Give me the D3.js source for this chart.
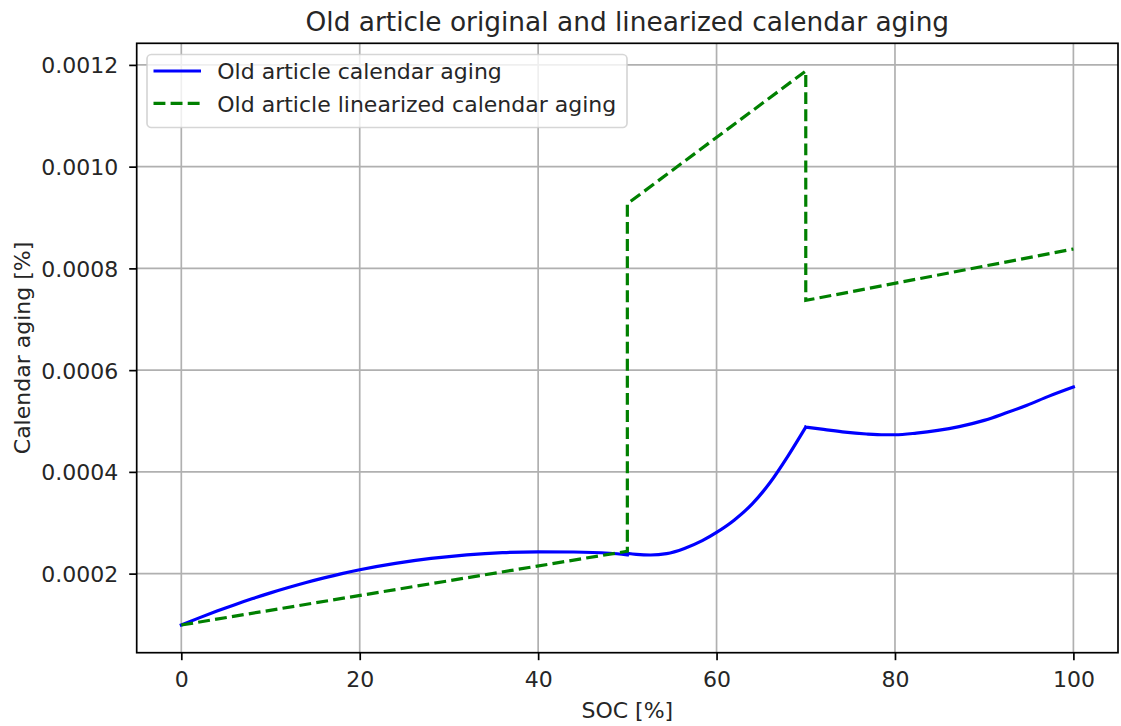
<!DOCTYPE html>
<html>
<head>
<meta charset="utf-8">
<script src="https://cdn.jsdelivr.net/npm/d3@7"></script>
<style>
  html, body { margin: 0; padding: 0; background: #fff; }
  svg { display: block; font-family: "DejaVu Sans", sans-serif; }
</style>
</head>
<body>
<svg id="chart" width="1121" height="726"></svg>
<script>
// ---------- data ----------
const titleText = "Old article original and linearized calendar aging";
const xLabelText = "SOC [%]";
const yLabelText = "Calendar aging [%]";
const seriesNames = ["Old article calendar aging", "Old article linearized calendar aging"];

const xTicks = [0, 20, 40, 60, 80, 100];
const yTicks = [0.0002, 0.0004, 0.0006, 0.0008, 0.0010, 0.0012];

// Original calendar aging (blue)
const blueSOC = [0, 2, 4, 6, 8, 10, 12, 14, 16, 18, 20, 24, 28, 32, 36, 40, 44, 48, 50,
                 50, 51, 52.6, 54.4, 56.4, 58.4, 60, 62, 64, 66, 68, 70,
                 72, 74.4, 76.8, 78.8, 80, 82.4, 84.8, 87.2, 90, 92.4, 94.8, 97.2, 100];
const blueAging = [0.0000990, 0.0001130, 0.0001263, 0.0001390, 0.0001510, 0.0001622, 0.0001727,
                   0.0001826, 0.0001917, 0.0002001, 0.0002075, 0.0002200, 0.0002298, 0.0002369,
                   0.0002413, 0.0002428, 0.0002425, 0.0002400, 0.0002370,
                   0.0002400, 0.0002380, 0.0002366, 0.0002392, 0.0002495, 0.0002648, 0.0002810,
                   0.0003055, 0.0003370, 0.0003790, 0.0004310, 0.0004880,
                   0.0004835, 0.0004780, 0.0004745, 0.0004730, 0.0004730, 0.0004762, 0.0004815,
                   0.0004890, 0.0005012, 0.0005156, 0.0005310, 0.0005484, 0.0005668];
// start index of each smooth piece of the blue curve
const blueSegmentStarts = [0, 19, 30];

// Linearized calendar aging (green dashed)
const greenSOC = [0, 50, 50, 70, 70, 100];
const greenAging = [0.0000990, 0.0002440, 0.0009270, 0.0011880, 0.0007370, 0.0008380];

// ---------- layout ----------
const svg = d3.select("#chart");
const L = 136.7, R = 1118, T = 43.3, B = 652.7;
const fs = 22;

const allY = blueAging.concat(greenAging);
const yMin = d3.min(allY), yMax = d3.max(allY);
const yPad = (yMax - yMin) * 0.05;
const x = d3.scaleLinear().domain([-5, 105]).range([L, R]);
const y = d3.scaleLinear().domain([yMin - yPad, yMax + yPad]).range([B, T]);

// grid
const grid = svg.append("g");
grid.selectAll(".gx").data(xTicks).enter().append("line")
  .attr("x1", d => x(d)).attr("x2", d => x(d)).attr("y1", T).attr("y2", B)
  .attr("stroke", "#b0b0b0").attr("stroke-width", 1.7);
grid.selectAll(".gy").data(yTicks).enter().append("line")
  .attr("x1", L).attr("x2", R).attr("y1", d => y(d)).attr("y2", d => y(d))
  .attr("stroke", "#b0b0b0").attr("stroke-width", 1.7);

// axes
const xAxis = d3.axisBottom(x).tickValues(xTicks).tickSize(7.5).tickPadding(6).tickFormat(d3.format("d"));
const yAxis = d3.axisLeft(y).tickValues(yTicks).tickSize(7.5).tickPadding(10).tickFormat(d3.format(".4f"));

const gx = svg.append("g").attr("transform", `translate(0,${B})`).call(xAxis);
const gy = svg.append("g").attr("transform", `translate(${L},0)`).call(yAxis);
[gx, gy].forEach(g => {
  g.select(".domain").remove();
  g.selectAll(".tick line").attr("stroke", "#000").attr("stroke-width", 1.7);
  g.selectAll(".tick text").attr("fill", "#262626").style("font-size", fs + "px")
    .style("font-family", '"DejaVu Sans", sans-serif');
});
gx.selectAll(".tick text").attr("dy", null).attr("y", 34);
gy.selectAll(".tick text").attr("dy", "0.36em").attr("x", -18.5);

// lines
svg.append("clipPath").attr("id", "clip").append("rect")
  .attr("x", L).attr("y", T).attr("width", R - L).attr("height", B - T);
const smoothLine = d3.line().x(d => x(d[0])).y(d => y(d[1])).curve(d3.curveMonotoneX);
const straightLine = d3.line().x(d => x(d[0])).y(d => y(d[1]));
const bluePts = blueSOC.map((s, i) => [s, blueAging[i]]);
const segs = blueSegmentStarts.map((st, k) => {
  const end = k + 1 < blueSegmentStarts.length ? blueSegmentStarts[k + 1] : bluePts.length;
  return bluePts.slice(st, end + (k === 1 ? 1 : 0));
});
const plotG = svg.append("g").attr("clip-path", "url(#clip)");
plotG.append("path")
  .attr("d", segs.map(s => smoothLine(s)).join("") +
             straightLine([bluePts[blueSegmentStarts[1] - 1], bluePts[blueSegmentStarts[1]]]))
  .attr("fill", "none").attr("stroke", "#0000ff").attr("stroke-width", 3.2)
  .attr("stroke-linejoin", "round").attr("stroke-linecap", "square");

const greenPts = greenSOC.map((s, i) => [s, greenAging[i]]);
plotG.append("path")
  .attr("d", straightLine(greenPts))
  .attr("fill", "none").attr("stroke", "#008000").attr("stroke-width", 3.2)
  .attr("stroke-dasharray", "11.9,5.2");

// spines
svg.append("rect").attr("x", L).attr("y", T).attr("width", R - L).attr("height", B - T)
  .attr("fill", "none").attr("stroke", "#000").attr("stroke-width", 1.7);

// title & labels
svg.append("text").attr("x", (L + R) / 2).attr("y", 30.5).attr("text-anchor", "middle")
  .style("font-size", "26.4px").attr("fill", "#262626").text(titleText);
svg.append("text").attr("x", (L + R) / 2).attr("y", 718).attr("text-anchor", "middle")
  .style("font-size", fs + "px").attr("fill", "#262626").text(xLabelText);
svg.append("text").attr("transform", `translate(29.5,${(T + B) / 2}) rotate(-90)`)
  .attr("text-anchor", "middle").style("font-size", fs + "px").attr("fill", "#262626").text(yLabelText);

// legend
const lg = svg.append("g");
lg.append("rect").attr("x", 147).attr("y", 54.5).attr("width", 480).attr("height", 73)
  .attr("rx", 4.3).attr("ry", 4.3)
  .attr("fill", "rgba(255,255,255,0.8)").attr("stroke", "rgba(204,204,204,0.8)").attr("stroke-width", 1.7);
const rowY = [71, 103.3];
const styles = [{ c: "#0000ff", dash: null }, { c: "#008000", dash: "11.9,5.2" }];
seriesNames.forEach((name, i) => {
  const ln = lg.append("line").attr("x1", 153.5).attr("x2", 201).attr("y1", rowY[i]).attr("y2", rowY[i])
    .attr("stroke", styles[i].c).attr("stroke-width", 3.2);
  if (styles[i].dash) ln.attr("stroke-dasharray", styles[i].dash);
  lg.append("text").attr("x", 217.3).attr("y", rowY[i] + 8.3)
    .style("font-size", fs + "px").attr("fill", "#262626").text(name);
});
</script>
</body>
</html>
